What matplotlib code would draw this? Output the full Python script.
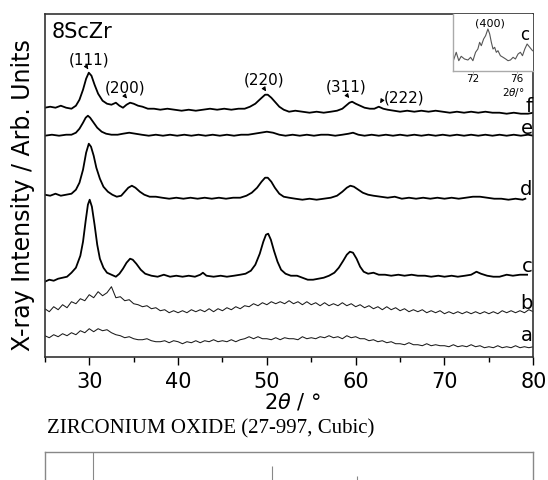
"""XRD patterns of 8ScZr samples with cubic ZrO2 reference card."""
import matplotlib
matplotlib.use("Agg")
import matplotlib.pyplot as plt
import numpy as np

plt.rcParams["font.family"] = ["DejaVu Sans"]

## noisy traces a, b (scan step 0.5 deg)
scan_2theta = np.arange(25.0, 80.5, 0.5)
trace_a = [21, 19, 22, 20, 23, 21, 24, 22, 26, 24,
           28, 25, 28, 26, 27, 24, 22, 21, 19, 20,
           18, 17, 17, 18, 16, 15, 15, 16, 14, 16,
           15, 13, 15, 14, 16, 14, 16, 15, 17, 15,
           16, 15, 17, 15, 17, 18, 20, 18, 20, 18,
           18, 17, 19, 17, 19, 18, 18, 17, 20, 18,
           19, 18, 20, 19, 21, 19, 20, 18, 21, 19,
           20, 18, 18, 16, 17, 15, 16, 14, 15, 13,
           13, 12, 14, 12, 12, 11, 13, 11, 12, 11,
           11, 10, 12, 10, 11, 10, 12, 10, 11, 9,
           10, 9, 11, 9, 10, 9, 11, 9, 10, 9,
           10]
trace_b = [48, 45, 50, 47, 52, 49, 55, 53, 58, 56,
           62, 59, 65, 61, 64, 70, 59, 60, 56, 57,
           53, 52, 50, 51, 48, 49, 46, 47, 44, 46,
           44, 46, 44, 47, 45, 47, 45, 48, 45, 48,
           46, 49, 47, 50, 48, 51, 50, 53, 51, 54,
           52, 55, 53, 55, 53, 56, 53, 55, 52, 55,
           52, 54, 51, 54, 51, 53, 51, 54, 51, 53,
           50, 52, 49, 51, 48, 50, 47, 50, 47, 49,
           46, 48, 45, 47, 45, 47, 44, 46, 44, 46,
           43, 45, 43, 45, 43, 45, 43, 45, 43, 45,
           43, 45, 43, 46, 44, 46, 44, 46, 44, 47,
           45]

## smoother traces c..f : (2theta, intensity)
trace_c = [(25.0, 75), (25.5, 77), (26.0, 76), (26.5, 78), (27.0, 79), (27.5, 80), (28.0, 84),
           (28.5, 89), (29.0, 101), (29.3, 115), (29.6, 136), (29.85, 152), (30.05, 157),
           (30.3, 150), (30.6, 132), (30.9, 112), (31.2, 98), (31.6, 89), (32.0, 84), (32.5, 82),
           (33.0, 80), (33.4, 83), (33.8, 88), (34.2, 94), (34.6, 98), (34.9, 97), (35.3, 93),
           (35.8, 87), (36.3, 83), (37.0, 81), (37.7, 80), (38.4, 82), (39.1, 80), (39.8, 81),
           (40.5, 80), (41.2, 81), (41.9, 80), (42.5, 82), (42.8, 84), (43.2, 81), (44.0, 80),
           (44.8, 81), (45.5, 80), (46.3, 81), (47.0, 82), (47.6, 83), (48.2, 86), (48.7, 92),
           (49.2, 103), (49.6, 115), (49.9, 122), (50.15, 123), (50.45, 117), (50.8, 106),
           (51.2, 95), (51.6, 87), (52.1, 83), (52.7, 81), (53.4, 81), (54.0, 79), (54.6, 77),
           (55.2, 77), (55.8, 78), (56.4, 79), (57.0, 81), (57.6, 84), (58.1, 89), (58.6, 96),
           (59.0, 102), (59.35, 105), (59.7, 104), (60.1, 98), (60.5, 90), (60.9, 85),
           (61.4, 83), (62.0, 84), (62.6, 82), (63.3, 82), (64.0, 81), (64.8, 82), (65.5, 81),
           (66.3, 82), (67.0, 81), (67.8, 81), (68.5, 80), (69.3, 81), (70.0, 80), (70.8, 81),
           (71.5, 80), (72.3, 81), (73.0, 82), (73.6, 85), (74.1, 83), (74.8, 81), (75.5, 80),
           (76.2, 80), (77.0, 82), (77.7, 81), (78.5, 82), (79.3, 82)]
trace_d = [(25.0, 162), (25.6, 161), (26.2, 163), (26.8, 161), (27.4, 162), (28.0, 163),
           (28.5, 167), (28.9, 174), (29.3, 187), (29.65, 204), (29.95, 213), (30.2, 210),
           (30.5, 201), (30.8, 189), (31.2, 178), (31.6, 170), (32.1, 165), (32.6, 162),
           (33.1, 160), (33.6, 161), (34.0, 165), (34.4, 169), (34.8, 171), (35.2, 169),
           (35.7, 165), (36.2, 162), (36.8, 160), (37.5, 160), (38.2, 159), (39.0, 158),
           (39.8, 159), (40.6, 158), (41.4, 159), (42.2, 158), (43.0, 159), (43.8, 158),
           (44.6, 159), (45.4, 158), (46.2, 159), (47.0, 159), (47.7, 161), (48.3, 164),
           (48.9, 169), (49.4, 175), (49.8, 179), (50.1, 179), (50.5, 175), (50.9, 169),
           (51.4, 163), (51.9, 160), (52.5, 159), (53.2, 158), (54.0, 157), (54.8, 158),
           (55.6, 157), (56.4, 158), (57.2, 159), (57.9, 161), (58.5, 165), (59.0, 169),
           (59.4, 171), (59.8, 170), (60.3, 167), (60.8, 164), (61.4, 162), (62.0, 161),
           (62.8, 160), (63.6, 159), (64.4, 160), (65.2, 158), (66.0, 159), (66.8, 158),
           (67.6, 159), (68.4, 158), (69.2, 159), (70.0, 158), (70.8, 159), (71.6, 158),
           (72.4, 159), (73.2, 160), (74.0, 160), (74.8, 159), (75.6, 158), (76.4, 158),
           (77.2, 157), (78.0, 158), (78.8, 157), (79.1, 158)]
trace_e = [(25.0, 221), (25.8, 222), (26.6, 221), (27.4, 222), (28.0, 222), (28.5, 224),
           (28.9, 228), (29.3, 234), (29.6, 239), (29.85, 241), (30.1, 239), (30.5, 234),
           (30.9, 229), (31.4, 225), (31.9, 223), (32.5, 222), (33.2, 222), (33.8, 223),
           (34.5, 224), (35.2, 223), (35.9, 222), (36.7, 221), (37.5, 222), (38.3, 221),
           (39.1, 222), (39.9, 221), (40.7, 222), (41.5, 221), (42.3, 222), (43.1, 221),
           (43.9, 222), (44.7, 221), (45.5, 222), (46.3, 221), (47.1, 222), (47.9, 222),
           (48.6, 223), (49.3, 224), (50.0, 225), (50.7, 224), (51.4, 222), (52.1, 221),
           (52.9, 222), (53.7, 221), (54.5, 222), (55.3, 221), (56.1, 222), (56.9, 222),
           (57.7, 221), (58.5, 222), (59.2, 223), (59.7, 224), (60.3, 222), (61.0, 221),
           (61.8, 222), (62.6, 221), (63.4, 222), (64.2, 221), (65.0, 222), (65.8, 221),
           (66.6, 222), (67.4, 221), (68.2, 222), (69.0, 221), (69.8, 222), (70.6, 221),
           (71.4, 222), (72.2, 221), (73.0, 222), (73.8, 221), (74.6, 222), (75.4, 221),
           (76.2, 222), (77.0, 221), (77.8, 222), (78.6, 221), (79.4, 222), (80.0, 221)]
trace_f = [(25.0, 249), (25.6, 250), (26.2, 249), (26.8, 251), (27.4, 249), (28.0, 248),
           (28.5, 251), (28.9, 257), (29.3, 267), (29.65, 278), (29.95, 284), (30.25, 281),
           (30.6, 272), (31.0, 263), (31.5, 256), (32.0, 253), (32.5, 252), (33.0, 254),
           (33.4, 251), (33.8, 249), (34.2, 252), (34.6, 254), (35.0, 253), (35.5, 251),
           (36.0, 250), (36.6, 248), (37.3, 248), (38.0, 247), (38.8, 248), (39.6, 247),
           (40.4, 246), (41.2, 247), (42.0, 246), (42.8, 247), (43.6, 248), (44.4, 247),
           (45.2, 248), (46.0, 247), (46.8, 248), (47.5, 248), (48.1, 250), (48.7, 253),
           (49.3, 258), (49.8, 262), (50.1, 262), (50.5, 259), (50.9, 255), (51.4, 250),
           (51.9, 247), (52.5, 245), (53.2, 246), (54.0, 245), (54.8, 244), (55.6, 245),
           (56.4, 244), (57.2, 245), (57.9, 246), (58.5, 248), (58.9, 251), (59.3, 254),
           (59.6, 255), (60.0, 253), (60.5, 251), (61.0, 249), (61.6, 248), (62.1, 248),
           (62.6, 250), (63.1, 248), (63.6, 247), (64.3, 246), (65.0, 245), (65.8, 246),
           (66.6, 245), (67.4, 246), (68.2, 245), (69.0, 246), (69.8, 245), (70.6, 244),
           (71.4, 245), (72.2, 244), (73.0, 245), (73.8, 244), (74.6, 245), (75.4, 244),
           (76.2, 244), (77.0, 243), (77.8, 244), (78.6, 243), (79.4, 243), (80.0, 244)]

curve_letters = ["a", "b", "c", "d", "e", "f"]
letter_heights = [22.7, 54.4, 91, 168, 229, 251]

# (400) zoom of sample c
inset_2theta = [70.21, 70.52, 70.75, 70.97, 71.27, 71.58, 71.82, 72.03, 72.27, 72.48, 72.64,
                72.79, 73.0, 73.18, 73.39, 73.55, 73.7, 73.85, 74.0, 74.15, 74.3, 74.52,
                74.76, 75.0, 75.21, 75.43, 75.67, 75.88, 76.12, 76.33, 76.52, 76.73, 76.94,
                77.18, 77.43]
inset_int = [8.4, 18.4, 10, 14.4, 11.7, 10.7, 13.4, 10, 18.4, 21.7, 28.4,
             25, 31.7, 35, 41.7, 36.7, 28.4, 21.7, 23.4, 18.4, 20, 15,
             13.4, 11.7, 10, 10.7, 13.4, 11.7, 16.7, 18.4, 15, 21.7, 26.7,
             23.4, 20]

# ICDD 27-997 lines
ref_2theta = [30.45, 50.6, 60.16]
ref_rel = [100, 70, 49]

# hkl labels: text pos, arrow tail, arrow head
hkl = [("(111)", (30.03, 297.7), (29.64, 290.7), (30.05, 285.0)),
       ("(200)", (34.03, 269.7), (33.9, 262.0), (34.45, 256.0)),
       ("(220)", (49.69, 277.7), (49.58, 269.7), (50.08, 263.0)),
       ("(311)", (58.9, 270.7), (58.9, 262.7), (59.47, 256.5)),
       ("(222)", (65.5, 259.7), (63.1, 258.5), (62.6, 251.0))]


def main():
    fig = plt.figure(figsize=(5.48, 4.81), dpi=100)
    ax = fig.add_axes([0.0818, 0.2563, 0.8914, 0.7125])

    ax.plot(scan_2theta, trace_a, color="#1a1a1a", lw=0.75)
    ax.plot(scan_2theta, trace_b, color="#1a1a1a", lw=0.75)
    for tr in (trace_c, trace_d, trace_e, trace_f):
        xs, ys = zip(*tr)
        ax.plot(xs, ys, color="black", lw=1.3)

    for lab, h in zip(curve_letters, letter_heights):
        ax.text(79.9, h, lab, fontsize=14, ha="right", va="center")

    for lab, tpos, tail, head in hkl:
        ax.text(tpos[0], tpos[1], lab, fontsize=11, ha="center", va="center")
        ax.annotate("", xy=head, xytext=tail,
                    arrowprops=dict(arrowstyle="-|>", color="black", lw=0.7,
                                    mutation_scale=6))

    ax.text(25.8, 325.7, "8ScZr", fontsize=15, ha="left", va="center")

    ax.set_xlim(25, 80)
    ax.set_ylim(0, 342.7)
    ax.set_yticks([])
    ax.set_xticks([30, 40, 50, 60, 70, 80])
    ax.set_xticks([25, 35, 45, 55, 65, 75], minor=True)
    ax.tick_params(axis="x", which="major", direction="out", length=6, width=1,
                   labelsize=15, pad=4)
    ax.tick_params(axis="x", which="minor", direction="out", length=3.5, width=1)
    for sp in ax.spines.values():
        sp.set_color("#333333")
        sp.set_linewidth(1.2)

    fig.text(292 / 548, 1 - 402 / 481, "2$\\theta$ / °", fontsize=15,
             ha="center", va="center")
    fig.text(23.5 / 548, 1 - 195 / 481, "X-ray Intensity / Arb. Units", fontsize=17,
             rotation=90, ha="center", va="center")

    # inset
    axi = fig.add_axes([452.7 / 548, 1 - 71.7 / 481, 80.6 / 548, 57 / 481])
    axi.plot(inset_2theta, inset_int, color="#555555", lw=0.8)
    axi.set_xlim(70.2, 77.5)
    axi.set_ylim(0, 57)
    axi.set_yticks([])
    axi.set_xticks([72, 76])
    axi.tick_params(axis="x", length=1.5, width=0.6, color="#999999", labelsize=7.5, pad=0.5)
    axi.spines["top"].set_visible(False)
    axi.spines["right"].set_visible(False)
    for s in ("left", "bottom"):
        axi.spines[s].set_color("#aaaaaa")
        axi.spines[s].set_linewidth(1.0)
    fig.text(513 / 548, 1 - 93 / 481, "2$\\theta$/°", fontsize=7.5, ha="center", va="center")
    fig.text(490 / 548, 1 - 24 / 481, "(400)", fontsize=8, ha="center", va="center")
    fig.text(525 / 548, 1 - 35 / 481, "c", fontsize=12, ha="center", va="center")

    # reference card
    fig.text(46.7 / 548, 1 - 429 / 481, "ZIRCONIUM OXIDE (27-997, Cubic)",
             family="Liberation Serif", fontsize=15, ha="left", va="center")
    axr = fig.add_axes([0.0818, -0.0395, 0.891, 0.0983])
    axr.vlines(ref_2theta, 0, ref_rel, color="#888888", lw=0.8)
    axr.set_xlim(25, 80)
    axr.set_ylim(0, 100)
    axr.set_xticks([])
    axr.set_yticks([])
    for sp in axr.spines.values():
        sp.set_color("#888888")
        sp.set_linewidth(1.0)

    fig.savefig("out.png", dpi=100)


if __name__ == "__main__":
    main()
